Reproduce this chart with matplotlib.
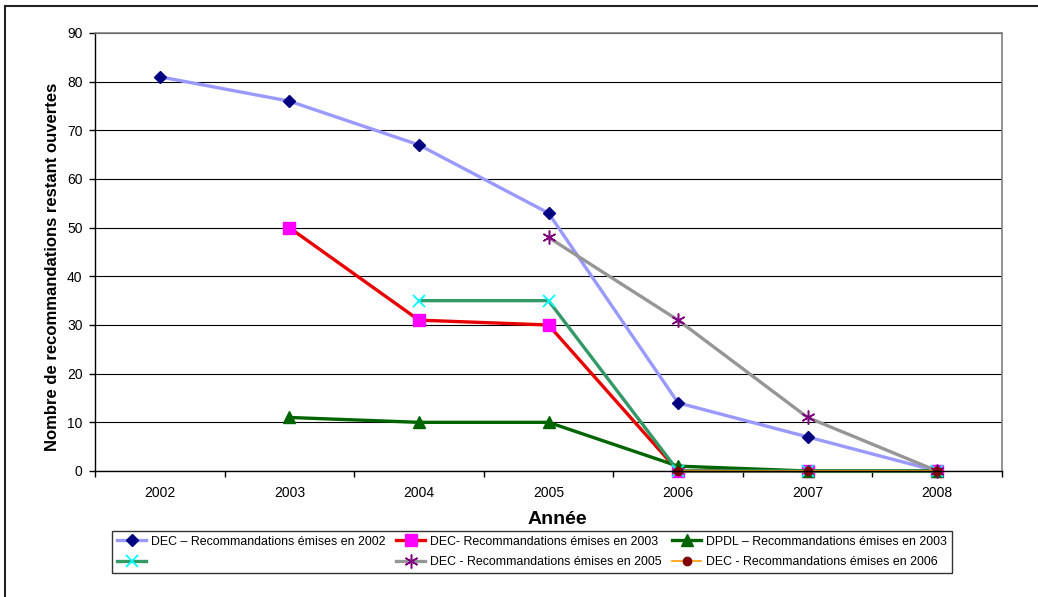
import numpy as np
import matplotlib
matplotlib.use("Agg")
import matplotlib.pyplot as plt
from matplotlib.lines import Line2D

plt.rcParams['font.family'] = ['Liberation Sans', 'DejaVu Sans']

years = ['2002', '2003', '2004', '2005', '2006', '2007', '2008']
nan = np.nan

dec_2002 = [81, 76, 67, 53, 14, 7, 0]
dec_2003 = [nan, 50, 31, 30, 0, 0, 0]
dpdl_2003 = [nan, 11, 10, 10, 1, 0, 0]
unnamed_2004 = [nan, nan, 35, 35, 0, 0, 0]
dec_2005 = [nan, nan, nan, 48, 31, 11, 0]
dec_2006 = [nan, nan, nan, nan, 0, 0, 0]

series = [
    (dec_2002, 'DEC – Recommandations émises en 2002',
     dict(color='#9999FF', lw=2.4, marker='D', ms=6.5, mfc='#000080', mec='#000080')),
    (dec_2003, 'DEC- Recommandations émises en 2003',
     dict(color='#E80000', lw=2.4, marker='s', ms=8, mfc='#FF00FF', mec='#FF00FF')),
    (dpdl_2003, 'DPDL – Recommandations émises en 2003',
     dict(color='#006400', lw=2.4, marker='^', ms=8, mfc='#006400', mec='#006400')),
    (unnamed_2004, '',
     dict(color='#339966', lw=2.4, marker='x', ms=8, mfc='#00FFFF', mec='#00FFFF', mew=1.3)),
    (dec_2005, 'DEC - Recommandations émises en 2005',
     dict(color='#969696', lw=2.4, marker=(6, 2, 0), ms=10, mfc='#800080', mec='#800080', mew=1.1)),
    (dec_2006, 'DEC - Recommandations émises en 2006',
     dict(color='#FF9900', lw=1.2, marker='o', ms=6, mfc='#800000', mec='#800000')),
]

fig = plt.figure(figsize=(10.38, 5.97), dpi=100)
ax = fig.add_axes([95 / 1038, 1 - 471 / 597, (1002 - 95) / 1038, (471 - 33) / 597])

x = np.arange(len(years))
handles = []
labels = []
for vals, lab, st in series:
    ln, = ax.plot(x, vals, solid_joinstyle='miter', clip_on=False, **st)
    handles.append(ln)
    labels.append(lab)

ax.set_xlim(-0.5, len(years) - 0.5)
ax.set_ylim(0, 90)
ax.set_yticks(np.arange(0, 91, 10))
ax.set_xticks(x)
ax.set_xticklabels(years)
ax.set_xticks(np.arange(-0.5, len(years)), minor=True)
ax.tick_params(axis='x', which='major', length=0, pad=11, labelsize=10)
ax.tick_params(axis='x', which='minor', length=4, width=1, direction='out', color='black')
ax.tick_params(axis='y', length=4, width=1, direction='out', pad=5, labelsize=10, color='black')

ax.grid(axis='y', color='black', lw=0.8)
ax.set_axisbelow(True)
for side in ('top', 'right'):
    ax.spines[side].set_color('#808080')
    ax.spines[side].set_linewidth(1.2)
for side in ('left', 'bottom'):
    ax.spines[side].set_color('black')
    ax.spines[side].set_linewidth(1.0)

ax.set_ylabel('Nombre de recommandations restant ouvertes', fontsize=12,
              fontweight='bold')
ax.yaxis.set_label_coords(-0.0386, 0.466)
fig.text(557 / 1038, 1 - 519 / 597, 'Année', fontsize=14, fontweight='bold',
         ha='center', va='center')

# legend laid out row by row in three columns
order = [0, 3, 1, 4, 2, 5]
leg = fig.legend([handles[i] for i in order], [labels[i] for i in order],
                 ncol=3, loc='center', bbox_to_anchor=(532 / 1038, 1 - 552 / 597),
                 fontsize=8.9, frameon=True, fancybox=False, edgecolor='black',
                 handlelength=2.4, handletextpad=0.4, columnspacing=0.8,
                 labelspacing=0.7, borderpad=0.4, numpoints=1)
leg.get_frame().set_linewidth(1.0)

# outer chart frame (top and left edges)
fig.add_artist(Line2D([5 / 1038, 1], [1 - 6 / 597, 1 - 6 / 597], color='#222222', lw=1.5))
fig.add_artist(Line2D([5 / 1038, 5 / 1038], [0, 1 - 6 / 597], color='#222222', lw=1.5))

fig.savefig('out.png', dpi=100)
